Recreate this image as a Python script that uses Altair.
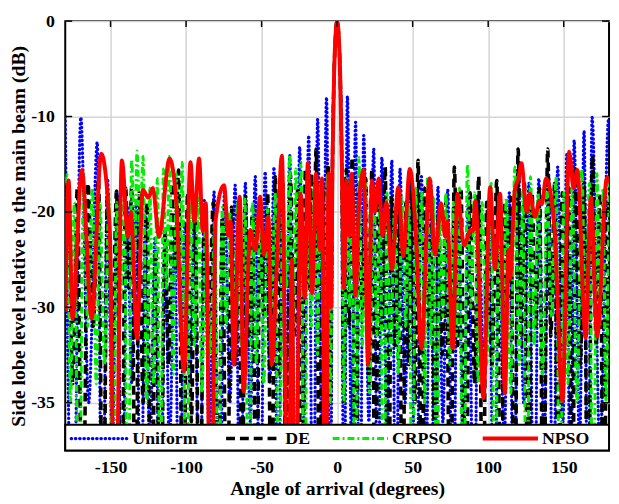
import altair as alt
import pandas as pd

series_names = ["Uniform", "DE", "CRPSO", "NPSO"]
x_ticks = [-150, -100, -50, 0, 50, 100, 150]
y_ticks = [0, -10, -20, -30, -40]

# (angle in degrees, level in dB); -60 = deep null (off the plot)
uniform_pts = [
    (-180, -10.0), (-175, -60), (-169.7, -10.1), (-164.5, -40), (-158.8, -12.7), (-155.5, -60),
    (-152, -16.5), (-149, -45), (-145.5, -18), (-142.5, -60), (-139, -19.5), (-136, -38),
    (-133, -19), (-130, -60), (-127, -20.5), (-124, -45), (-120.5, -22.6), (-117, -60),
    (-114, -22), (-111, -45), (-107.5, -22.5), (-104.5, -60), (-101, -21), (-97.5, -38),
    (-94.5, -19.5), (-91, -60), (-88, -18.8), (-84.5, -45), (-81.5, -17.9), (-78, -60),
    (-74.5, -17.5), (-71, -40), (-67.5, -17.2), (-64, -60), (-60.8, -17.0), (-57.5, -42),
    (-54.2, -16.3), (-51, -60), (-47.7, -15.8), (-44.5, -38), (-41.8, -15.3), (-39, -60),
    (-36.5, -14.6), (-34, -45), (-31.4, -14.1), (-28, -60), (-24.8, -13.2), (-22, -42),
    (-18.8, -12.0), (-16, -60), (-12.9, -10.3), (-10, -45), (-7.0, -8.0), (-4.5, -60),
    (-3, -14), (-2, -5.5), (-1, -1.4), (0, 0), (1, -1.4), (2, -5.5), (3, -14),
    (4.5, -60), (6.8, -7.9), (9.5, -45), (12.2, -10.6), (15, -60), (17.6, -12.0), (21, -42),
    (24.2, -13.4), (27, -60), (29.6, -14.3), (33, -45), (36.2, -14.6), (39, -60), (41.6, -15.5),
    (45, -40), (48.5, -15.8), (52, -60), (55.8, -16.3), (59, -45), (62, -16.8), (64.5, -60),
    (66.7, -17.4), (70, -42), (73.2, -17.7), (76.5, -60), (80, -18.2), (83.5, -45), (87, -18.5),
    (90.5, -60), (93.7, -18.8), (97, -38), (100.5, -19.2), (104, -60), (107, -19.5), (110.5, -45),
    (114, -18), (117, -60), (120, -16.5), (123.5, -40), (127, -17), (130.5, -60), (133.5, -16.5),
    (137, -45), (140, -16), (143, -60), (146, -15.3), (149.5, -42), (152, -14), (154.5, -60),
    (156.9, -12.5), (160.5, -45), (163.5, -11.5), (166, -60), (168.8, -10.1), (174, -45),
    (179.7, -10.3), (180, -10.3),
]

de_pts = [
    (-180, -24), (-178, -19), (-175, -38), (-172, -17.5), (-168.5, -60), (-165, -17), (-161.5, -32),
    (-158, -16.5), (-155, -60), (-152, -18), (-149, -35), (-146, -17.8), (-143, -60), (-140, -17.5),
    (-138, -28), (-136, -17.4), (-133.5, -60), (-131, -18), (-128.5, -40), (-126, -19), (-123, -60),
    (-120, -24), (-117, -60), (-114, -22), (-111.5, -36), (-109, -17), (-107, -26), (-105, -15.6),
    (-102, -60), (-99, -18), (-96.5, -42), (-94, -19.5), (-91, -60), (-88, -20), (-85, -33),
    (-82, -19), (-79, -60), (-76, -20.5), (-73, -60), (-70, -19.5), (-67.5, -36), (-65, -18.8),
    (-63, -60), (-60.8, -18.4), (-58.5, -34), (-56, -19.5), (-53.5, -60), (-51, -19), (-48.5, -31),
    (-46, -18), (-43.5, -60), (-41, -16.3), (-38.5, -37), (-36, -17), (-33.5, -60), (-31, -16),
    (-28.5, -33), (-26, -17.5), (-23.5, -60), (-21, -15.5), (-19, -28), (-17, -16), (-15.5, -24),
    (-13.9, -13.4), (-11.5, -60), (-9.5, -17), (-8, -30), (-6, -15), (-4.5, -40),
    (-3, -14), (-2, -5.5), (-1, -1.4), (0, 0), (1, -1.4), (2, -5.5), (3, -14),
    (4.5, -40), (6, -15.5), (8, -32), (10, -14.3), (12.5, -60), (14.5, -17), (16.8, -30),
    (19, -16.5), (21, -38), (23, -15.6), (25.3, -60), (27.5, -17), (29.7, -32), (31.8, -15.3),
    (34, -60), (36, -18.5), (38.5, -34), (41, -18.2), (43.3, -60), (45.5, -19), (47.5, -36),
    (49.5, -17), (51.5, -40), (53.6, -14.6), (56, -60), (58, -17.5), (60.5, -32), (63, -18.5),
    (65, -60), (67, -20), (69.5, -35), (72, -19), (75, -60), (77.6, -15.3), (80, -34), (82, -17.5),
    (85, -60), (88, -18), (91, -38), (93.7, -16.3), (96.5, -60), (99, -19), (102.5, -36),
    (105.7, -16.7), (108.5, -60), (111, -19), (113, -30), (115, -18.5), (117.5, -60), (119.8, -13.4),
    (122, -34), (124, -17), (126.5, -60), (129, -18), (131.5, -32), (134, -17.5), (136.5, -60),
    (139.4, -13.4), (141.5, -33), (144, -17), (146.5, -60), (149, -18), (151, -30), (153.5, -17.5),
    (155.5, -60), (158, -15.5), (161, -36), (163.5, -17), (166, -60), (169, -14.1), (171.5, -34),
    (174, -18), (176.5, -60), (179, -19), (180, -20),
]

crpso_pts = [
    (-180, -17), (-179, -16), (-176.5, -40), (-174, -19), (-171, -60), (-168, -18), (-165, -32),
    (-162, -17.5), (-159.5, -38), (-157, -19), (-154, -36), (-151, -18.5), (-148.5, -60), (-146, -19),
    (-143.5, -30), (-141, -16.5), (-138.5, -60), (-136, -14.5), (-134, -25), (-132.5, -13.6),
    (-130.5, -22), (-128.5, -14.2), (-126, -40), (-124, -17.5), (-121.5, -38), (-119, -16.5),
    (-117, -60), (-115, -15.5), (-113, -28), (-111, -14.2), (-108.5, -37), (-106.5, -16),
    (-104.5, -30), (-102.5, -14.8), (-100, -60), (-97, -19), (-94.5, -34), (-92, -18.5),
    (-89.5, -39), (-87, -20), (-84, -35), (-81, -21), (-78.5, -60), (-76, -19.5), (-73.5, -32),
    (-71, -20), (-68.5, -36), (-66, -19), (-63.5, -34), (-61, -18.5), (-58.5, -60), (-56, -19),
    (-53.5, -36), (-51, -20), (-48.5, -38), (-46, -19.5), (-43.5, -30), (-41, -18), (-38.5, -60),
    (-36, -17), (-33.5, -28), (-31.4, -14.0), (-29.5, -40), (-27.5, -15.5), (-25.8, -26),
    (-24, -14.8), (-21.5, -60), (-19.5, -17.5), (-17, -32), (-15, -16.5), (-13, -35), (-11, -17),
    (-8.5, -36), (-6.5, -16), (-4.5, -40),
    (-3, -14), (-2, -5.5), (-1, -1.4), (0, 0), (1, -1.4), (2, -5.5), (3, -14),
    (4.5, -40), (6.5, -16.5), (8.3, -30), (10, -17), (12, -60), (14.4, -14.3), (16.7, -34),
    (19, -17), (21.5, -39), (24, -17.5), (26.3, -33), (28.5, -18.5), (30.8, -60), (33, -18),
    (35.5, -35), (38, -19.5), (40.5, -37), (43, -18.5), (45.3, -32), (47.5, -19), (49.8, -60),
    (52, -17.5), (54, -30), (56, -18), (58, -40), (60, -16.3), (62, -34), (64, -18.5), (66, -60),
    (68, -19.5), (70, -31), (72, -18), (74.5, -36), (77, -19), (79, -33), (81, -17.5), (83.5, -60),
    (86.3, -15), (88.5, -30), (91, -18), (93.5, -38), (96, -19), (99, -36), (102, -17),
    (104.5, -60), (107, -19), (109.5, -33), (112, -18.5), (115, -39), (117.6, -15.3), (120.5, -36),
    (123, -17.5), (125.5, -60), (128, -16.3), (130.5, -34), (133, -18), (136, -37), (139, -17.5),
    (142, -31), (145, -16.3), (147.5, -60), (150, -18), (152.8, -38), (155.5, -17.5), (158.8, -40),
    (162, -15.5), (164.5, -33), (167, -17), (169.5, -60), (172, -16), (174, -32), (176, -17.5),
    (178, -40), (180, -16.3),
]

npso_pts = [
    (-180, -30.5), (-177.8, -16.7), (-175.2, -31.2), (-169, -15.6), (-162.5, -31.2), (-156.2, -13.9),
    (-150.5, -22), (-147, -60), (-142.5, -14.6), (-138.5, -22.6), (-136.5, -20), (-132.5, -33.3),
    (-128.6, -17.7), (-125, -18.5), (-122, -17.5), (-118, -22.6), (-110.9, -14.4), (-106.5, -19),
    (-101.4, -36.7), (-97.1, -14.8), (-94.5, -21), (-91.4, -14.4), (-89, -22), (-87, -19.1),
    (-83.6, -60), (-80.4, -20.8), (-74.9, -17.2), (-72, -22.5), (-70.5, -21), (-68.4, -36.0),
    (-64.5, -18.4), (-61.9, -38.8), (-57.5, -21.9), (-54, -24), (-51, -18.4), (-48.5, -24.5),
    (-45.5, -20.5), (-43.3, -36), (-40, -26), (-36.6, -14.1), (-32.4, -60), (-30, -25),
    (-27.9, -60), (-24.1, -18.1), (-21.5, -29), (-19.4, -14.9), (-16.5, -28.5), (-14.0, -16.0),
    (-11.5, -24), (-10, -16.5), (-7.8, -60), (-5.6, -16), (-4, -30),
    (-3, -14), (-2, -5.5), (-1, -1.4), (0, 0), (1, -1.4), (2, -5.5), (3, -14),
    (4.5, -28), (6.1, -16.7), (8, -22.5), (9.6, -16.0), (12.2, -28.8), (14.5, -19), (17.6, -15.6),
    (20.5, -36), (23.1, -16.7), (25, -20), (27.5, -16.5), (30, -22.5), (32.5, -19), (36.2, -26),
    (40.5, -17.4), (43.8, -24.6), (48.1, -15.5), (52, -22), (55.8, -34.3), (61.2, -16.5),
    (64.8, -24.5), (68.8, -19.1), (71.5, -22.6), (73, -21), (76.5, -34.3), (79.7, -18.1),
    (84, -23.5), (88.4, -21.9), (90, -22), (91.5, -18.8), (96.9, -39.5), (101.3, -17.4),
    (104.5, -26), (107.9, -18.1), (111.1, -39), (113.5, -24), (114.5, -27), (117.6, -17.7),
    (120, -16.5), (122, -14.9), (125.5, -20), (127.5, -18.1), (131, -20.5), (134, -18.8),
    (135.5, -19.2), (138.3, -16.5), (143.8, -21.5), (149.2, -39.8), (153.6, -13.7), (156.5, -17.5),
    (159, -15.6), (164.5, -33.2), (168, -18.5), (172.1, -33.1), (178.6, -16.4), (180, -17),
]

FONT = "Liberation Serif"
W, H = 551, 435

x_scale = alt.Scale(domain=[-180, 180], nice=False, zero=False)
y_scale = alt.Scale(domain=[-45, 0], nice=False, zero=False)
x_axis = alt.Axis(values=x_ticks, title="Angle of arrival (degrees)",
                  labelExpr="toString(datum.value)", labelPadding=8, titlePadding=3,
                  labelFontSize=18, titleFontSize=20)
y_axis = alt.Axis(values=y_ticks, title="Side lobe level relative to the main beam (dB)",
                  labelExpr="datum.value == -40 ? '-35' : toString(datum.value)",
                  labelPadding=11, titlePadding=2, labelFontSize=18, titleFontSize=20)


def X(field):
    return alt.X(field, type="quantitative", scale=x_scale, axis=x_axis)


def Y(field):
    return alt.Y(field, type="quantitative", scale=y_scale, axis=y_axis)


styles = {
    "Uniform": dict(color="#0000ff", strokeWidth=3.2, strokeDash=[0.5, 3.8], strokeCap="round"),
    "DE": dict(color="#000000", strokeWidth=3.6, strokeDash=[9, 5]),
    "CRPSO": dict(color="#00ee00", strokeWidth=3.0, strokeDash=[7, 3, 2, 3]),
    "NPSO": dict(color="#ff0000", strokeWidth=4),
}
series_pts = {"Uniform": uniform_pts, "DE": de_pts, "CRPSO": crpso_pts, "NPSO": npso_pts}

layers = []
for name in series_names:
    df = pd.DataFrame(series_pts[name], columns=["angle", "db"])
    layers.append(
        alt.Chart(df).mark_line(interpolate="monotone", clip=True, **styles[name])
        .encode(x=X("angle"), y=Y("db"))
    )

# inward tick marks (MATLAB box style)
xt = pd.DataFrame({"v": x_ticks})
yt = pd.DataFrame({"v": y_ticks})
layers.append(alt.Chart(xt).mark_rule(color="black", strokeWidth=1.5)
              .encode(x=X("v"), y=alt.value(0), y2=alt.value(6)))
layers.append(alt.Chart(yt).mark_rule(color="black", strokeWidth=1.5)
              .encode(y=Y("v"), x=alt.value(0), x2=alt.value(7)))
layers.append(alt.Chart(yt).mark_rule(color="black", strokeWidth=1.5)
              .encode(y=Y("v"), x=alt.value(W - 7), x2=alt.value(W)))

# legend box
layers.append(alt.Chart(pd.DataFrame({"a": [0]})).mark_rect(fill="white", stroke="black", strokeWidth=2)
              .encode(x=alt.value(0), x2=alt.value(W), y=alt.value(409), y2=alt.value(H)))
legend_sample_x = {"Uniform": (6, 64), "DE": (163, 219), "CRPSO": (271, 327), "NPSO": (423, 479)}
for name in series_names:
    x0, x1 = legend_sample_x[name]
    st = dict(styles[name])
    layers.append(alt.Chart(pd.DataFrame({"a": [0]})).mark_rule(**st)
                  .encode(x=alt.value(x0), x2=alt.value(x1), y=alt.value(423)))
    layers.append(alt.Chart(pd.DataFrame({"label": [name]}))
                  .mark_text(align="left", baseline="middle", font=FONT, fontSize=18,
                             fontWeight="bold", color="black")
                  .encode(x=alt.value(x1 + 4), y=alt.value(423.5), text="label:N"))

chart = (
    alt.layer(*layers)
    .properties(width=W, height=H,
                padding={"left": 58, "top": 10, "right": 2, "bottom": 51},
                autosize=alt.AutoSizeParams(type="none"),
                background="white")
    .configure_view(stroke="black", strokeWidth=2)
    .configure_axis(labelFont=FONT, titleFont=FONT,
                    labelFontWeight="bold", titleFontWeight="bold", labelColor="black",
                    titleColor="black", grid=True, gridColor="#d4d4d4", gridWidth=1.5,
                    ticks=False, domain=False)
)

chart.save("out.html", embed_options={"renderer": "svg", "actions": False})
